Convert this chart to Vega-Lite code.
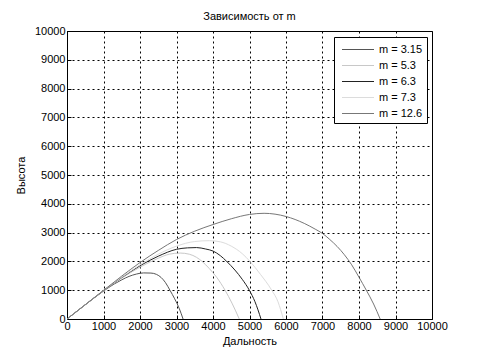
{
  "$schema": "https://vega.github.io/schema/vega-lite/v6.json",
  "width": 365,
  "height": 288,
  "autosize": {"type": "none"},
  "padding": {"left": 67, "top": 31, "right": 49, "bottom": 43},
  "background": "white",
  "title": {"text": "Зависимость от m", "font": "Liberation Sans", "fontSize": 11, "fontWeight": "normal", "color": "black", "anchor": "middle", "offset": 3},
  "config": {
    "view": {"stroke": "black", "strokeWidth": 1},
    "axis": {
      "labelFont": "Liberation Sans", "labelFontSize": 11, "labelColor": "black",
      "titleFont": "Liberation Sans", "titleFontSize": 11, "titleFontWeight": "normal", "titleColor": "black",
      "domainColor": "black", "tickColor": "black", "tickSize": -4,
      "gridColor": "black", "gridDash": [2, 3], "gridOpacity": 1, "gridWidth": 1
    }
  },
  "data": {"values": [
    {"m": "m = 3.15", "x": 0, "y": 0}, {"m": "m = 3.15", "x": 500, "y": 495}, {"m": "m = 3.15", "x": 1000, "y": 970},
    {"m": "m = 3.15", "x": 1300, "y": 1220}, {"m": "m = 3.15", "x": 1500, "y": 1360}, {"m": "m = 3.15", "x": 1700, "y": 1480},
    {"m": "m = 3.15", "x": 1900, "y": 1560}, {"m": "m = 3.15", "x": 2100, "y": 1600}, {"m": "m = 3.15", "x": 2300, "y": 1595},
    {"m": "m = 3.15", "x": 2450, "y": 1550}, {"m": "m = 3.15", "x": 2580, "y": 1440}, {"m": "m = 3.15", "x": 2700, "y": 1260},
    {"m": "m = 3.15", "x": 2820, "y": 1000}, {"m": "m = 3.15", "x": 2950, "y": 700}, {"m": "m = 3.15", "x": 3080, "y": 350},
    {"m": "m = 3.15", "x": 3180, "y": 0},

    {"m": "m = 5.3", "x": 0, "y": 0}, {"m": "m = 5.3", "x": 500, "y": 495}, {"m": "m = 5.3", "x": 1000, "y": 980},
    {"m": "m = 5.3", "x": 1500, "y": 1420}, {"m": "m = 5.3", "x": 2000, "y": 1800}, {"m": "m = 5.3", "x": 2500, "y": 2110},
    {"m": "m = 5.3", "x": 2800, "y": 2250}, {"m": "m = 5.3", "x": 3100, "y": 2290}, {"m": "m = 5.3", "x": 3350, "y": 2250},
    {"m": "m = 5.3", "x": 3550, "y": 2140}, {"m": "m = 5.3", "x": 3700, "y": 2000}, {"m": "m = 5.3", "x": 3900, "y": 1750},
    {"m": "m = 5.3", "x": 4100, "y": 1450}, {"m": "m = 5.3", "x": 4330, "y": 1000}, {"m": "m = 5.3", "x": 4520, "y": 550},
    {"m": "m = 5.3", "x": 4720, "y": 0},

    {"m": "m = 6.3", "x": 0, "y": 0}, {"m": "m = 6.3", "x": 500, "y": 495}, {"m": "m = 6.3", "x": 1000, "y": 985},
    {"m": "m = 6.3", "x": 1500, "y": 1440}, {"m": "m = 6.3", "x": 2000, "y": 1850}, {"m": "m = 6.3", "x": 2500, "y": 2180},
    {"m": "m = 6.3", "x": 3000, "y": 2420}, {"m": "m = 6.3", "x": 3300, "y": 2470}, {"m": "m = 6.3", "x": 3550, "y": 2480},
    {"m": "m = 6.3", "x": 3800, "y": 2430}, {"m": "m = 6.3", "x": 4000, "y": 2360}, {"m": "m = 6.3", "x": 4200, "y": 2200},
    {"m": "m = 6.3", "x": 4375, "y": 2000}, {"m": "m = 6.3", "x": 4600, "y": 1700}, {"m": "m = 6.3", "x": 4800, "y": 1380},
    {"m": "m = 6.3", "x": 4995, "y": 1000}, {"m": "m = 6.3", "x": 5150, "y": 600}, {"m": "m = 6.3", "x": 5315, "y": 0},

    {"m": "m = 7.3", "x": 0, "y": 0}, {"m": "m = 7.3", "x": 500, "y": 495}, {"m": "m = 7.3", "x": 1000, "y": 990},
    {"m": "m = 7.3", "x": 1500, "y": 1450}, {"m": "m = 7.3", "x": 2000, "y": 1880}, {"m": "m = 7.3", "x": 2500, "y": 2250},
    {"m": "m = 7.3", "x": 3000, "y": 2530}, {"m": "m = 7.3", "x": 3500, "y": 2690}, {"m": "m = 7.3", "x": 3900, "y": 2720},
    {"m": "m = 7.3", "x": 4200, "y": 2680}, {"m": "m = 7.3", "x": 4500, "y": 2530}, {"m": "m = 7.3", "x": 4800, "y": 2270},
    {"m": "m = 7.3", "x": 5014, "y": 2000}, {"m": "m = 7.3", "x": 5300, "y": 1550}, {"m": "m = 7.3", "x": 5608, "y": 1000},
    {"m": "m = 7.3", "x": 5780, "y": 600}, {"m": "m = 7.3", "x": 5927, "y": 0},

    {"m": "m = 12.6", "x": 0, "y": 0}, {"m": "m = 12.6", "x": 500, "y": 497}, {"m": "m = 12.6", "x": 1000, "y": 995},
    {"m": "m = 12.6", "x": 1500, "y": 1490}, {"m": "m = 12.6", "x": 2000, "y": 1960}, {"m": "m = 12.6", "x": 2500, "y": 2380},
    {"m": "m = 12.6", "x": 3000, "y": 2760}, {"m": "m = 12.6", "x": 3500, "y": 3050}, {"m": "m = 12.6", "x": 4000, "y": 3280},
    {"m": "m = 12.6", "x": 4500, "y": 3480}, {"m": "m = 12.6", "x": 5000, "y": 3630}, {"m": "m = 12.6", "x": 5400, "y": 3670},
    {"m": "m = 12.6", "x": 6000, "y": 3560}, {"m": "m = 12.6", "x": 6500, "y": 3320}, {"m": "m = 12.6", "x": 6800, "y": 3120},
    {"m": "m = 12.6", "x": 7000, "y": 2970}, {"m": "m = 12.6", "x": 7200, "y": 2760}, {"m": "m = 12.6", "x": 7400, "y": 2520},
    {"m": "m = 12.6", "x": 7600, "y": 2230}, {"m": "m = 12.6", "x": 7800, "y": 1880}, {"m": "m = 12.6", "x": 8000, "y": 1450},
    {"m": "m = 12.6", "x": 8200, "y": 1000}, {"m": "m = 12.6", "x": 8400, "y": 520}, {"m": "m = 12.6", "x": 8580, "y": 0}
  ]},
  "mark": {"type": "line", "interpolate": "monotone", "strokeWidth": 1},
  "encoding": {
    "x": {"field": "x", "type": "quantitative", "title": "Дальность",
      "scale": {"domain": [0, 10000], "nice": false},
      "axis": {"values": [0,1000,2000,3000,4000,5000,6000,7000,8000,9000,10000], "format": "d", "labelPadding": 5, "titlePadding": 4, "labelFlush": false}},
    "y": {"field": "y", "type": "quantitative", "title": "Высота",
      "scale": {"domain": [0, 10000], "nice": false},
      "axis": {"values": [0,1000,2000,3000,4000,5000,6000,7000,8000,9000,10000], "format": "d", "labelPadding": 6, "titlePadding": 8}},
    "color": {"field": "m", "type": "nominal",
      "scale": {"domain": ["m = 3.15", "m = 5.3", "m = 6.3", "m = 7.3", "m = 12.6"],
                "range": ["#555555", "#c8c8c8", "#222222", "#dcdcdc", "#777777"]},
      "legend": {"title": null, "orient": "none", "legendX": 267, "legendY": 6,
        "symbolType": "M-0.6,0H3.667", "symbolSize": 225, "symbolStrokeWidth": 1.2, "symbolFillColor": "transparent",
        "labelFont": "Liberation Sans", "labelFontSize": 11, "labelColor": "black",
        "strokeColor": "black", "fillColor": "white", "padding": 4, "rowPadding": 2, "labelOffset": 24}
    }
  }
}
